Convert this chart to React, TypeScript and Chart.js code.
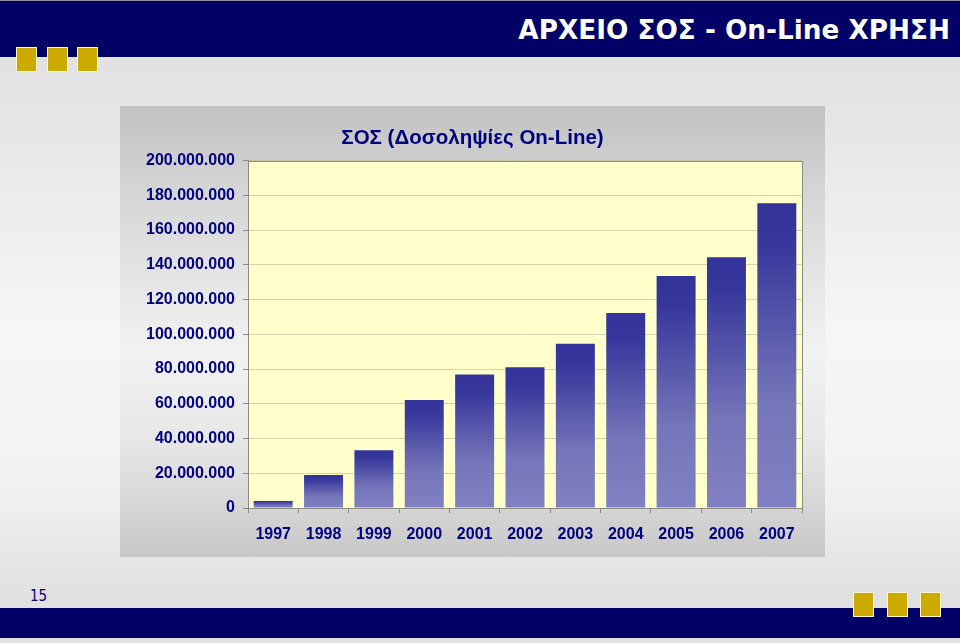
import React, { useEffect, useRef } from "react";
import { Chart, registerables } from "chart.js";

Chart.register(...registerables);

const years: string[] = ["1997", "1998", "1999", "2000", "2001", "2002", "2003", "2004", "2005", "2006", "2007"];
const transactions: number[] = [4000000, 19000000, 33200000, 62200000, 76800000, 81000000, 94500000, 112300000, 133600000, 144300000, 175500000];
const yMin = 0;
const yMax = 200000000;
const yStep = 20000000;
const chartTitle = "ΣΟΣ (Δοσοληψίες On-Line)";
const slideTitle = "ΑΡΧΕΙΟ ΣΟΣ - On-Line ΧΡΗΣΗ";
const pageNumber = "15";

const NAVY = "#000066";
const LABEL = "#000080";
const GOLD = "#ccaa00";

const fmt = (v: number) => String(Math.round(v)).replace(/\B(?=(\d{3})+(?!\d))/g, ".");

const plotBg = {
  id: "plotBg",
  beforeDraw(chart: any) {
    const { ctx, chartArea: a } = chart;
    if (!a) return;
    ctx.save();
    ctx.fillStyle = "#ffffcc";
    ctx.fillRect(a.left, a.top, a.right - a.left, a.bottom - a.top);
    ctx.restore();
  },
  afterDraw(chart: any) {
    const { ctx, chartArea: a } = chart;
    if (!a) return;
    ctx.save();
    ctx.strokeStyle = "#8a8a80";
    ctx.lineWidth = 1;
    ctx.strokeRect(Math.round(a.left) + 0.5, Math.round(a.top) + 0.5, Math.round(a.right - a.left), Math.round(a.bottom - a.top));
    ctx.restore();
  },
};

function Square({ left, top }: { left: number; top: number }) {
  return (
    <div
      style={{
        position: "absolute",
        left,
        top,
        width: 19,
        height: 23,
        background: GOLD,
        border: "1px solid #fff8d0",
      }}
    />
  );
}

export default function App() {
  const canvasRef = useRef<HTMLCanvasElement | null>(null);

  useEffect(() => {
    if (!canvasRef.current) return;
    const chart = new Chart(canvasRef.current, {
      type: "bar",
      data: {
        labels: years,
        datasets: [
          {
            data: transactions,
            backgroundColor: (ctx: any) => {
              const c = ctx.chart;
              const ys = c.scales && c.scales.y;
              if (!c.chartArea || !ys || ctx.raw == null) return "#333399";
              const top = ys.getPixelForValue(ctx.raw);
              const bot = ys.getPixelForValue(0);
              if (!isFinite(top) || !isFinite(bot) || bot - top < 1) return "#333399";
              const g = c.ctx.createLinearGradient(0, top, 0, bot);
              g.addColorStop(0, "#333399");
              g.addColorStop(0.12, "#36369b");
              g.addColorStop(0.65, "#7575b9");
              g.addColorStop(1, "#8080c2");
              return g;
            },
            borderWidth: 0,
            barPercentage: 0.774,
            categoryPercentage: 1,
          },
        ],
      },
      options: {
        responsive: false,
        animation: false,
        layout: { padding: { left: 0, right: 0, top: 0, bottom: 0 } },
        plugins: {
          legend: { display: false },
          tooltip: { enabled: false },
          title: {
            display: true,
            text: chartTitle,
            color: LABEL,
            font: { family: "'Liberation Sans', Arial, sans-serif", size: 20.5, weight: "bold" },
            padding: { top: 20, bottom: 10 },
          },
        },
        scales: {
          x: {
            afterFit: (s: any) => {
              s.height = 49;
            },
            grid: {
              offset: true,
              drawOnChartArea: false,
              drawTicks: true,
              tickLength: 5,
              tickColor: "#8a8a80",
            },
            border: { color: "#8a8a80" },
            ticks: {
              color: LABEL,
              padding: 12,
              maxRotation: 0,
              font: { family: "'Liberation Sans', Arial, sans-serif", size: 16, weight: "bold" },
            },
          },
          y: {
            min: yMin,
            max: yMax,
            afterFit: (s: any) => {
              s.width = 128;
            },
            grid: {
              color: "rgba(170,170,140,0.5)",
              drawTicks: true,
              tickLength: 5,
              tickColor: "#8a8a80",
            },
            border: { color: "#8a8a80" },
            ticks: {
              stepSize: yStep,
              color: LABEL,
              padding: 8,
              font: { family: "'Liberation Sans', Arial, sans-serif", size: 16, weight: "bold" },
              callback: (v: any) => fmt(Number(v)),
            },
          },
          yRightSpace: {
            position: "right",
            min: yMin,
            max: yMax,
            afterFit: (s: any) => {
              s.width = 23;
            },
            grid: { display: false },
            border: { display: false },
            ticks: { display: false },
          },
        },
      },
      plugins: [plotBg],
    });
    return () => chart.destroy();
  }, []);

  return (
    <div
      style={{
        position: "fixed",
        left: 0,
        top: 0,
        width: 960,
        height: 643,
        overflow: "hidden",
        background: "linear-gradient(180deg, #e0e0e0 0px, #e2e2e2 70px, #f6f6f6 330px, #f2f2f2 480px, #e0e0e0 600px)",
        fontFamily: "'Liberation Sans', Arial, sans-serif",
      }}
    >
      {/* header */}
      <div style={{ position: "absolute", left: 0, top: 0, width: 960, height: 1, background: "#9090a0" }} />
      <div style={{ position: "absolute", left: 0, top: 1, width: 960, height: 56, background: NAVY }} />
      <div
        style={{
          position: "absolute",
          right: 10,
          top: 15,
          color: "#ffffff",
          fontFamily: "'DejaVu Sans', sans-serif",
          fontWeight: "bold",
          fontSize: 26.3,
          lineHeight: "30px",
          whiteSpace: "nowrap",
        }}
      >
        {slideTitle}
      </div>
      <Square left={16} top={47} />
      <Square left={47} top={47} />
      <Square left={77} top={47} />

      {/* chart box */}
      <div
        style={{
          position: "absolute",
          left: 120,
          top: 106,
          width: 705,
          height: 451,
          background: "linear-gradient(180deg, #c2c2c2 0%, #d6d6d6 20%, #f2f2f2 55%, #e6e6e6 75%, #c8c8c8 100%)",
        }}
      >
        <canvas ref={canvasRef} width={705} height={451} style={{ display: "block" }} />
      </div>

      {/* footer */}
      <div
        style={{
          position: "absolute",
          left: 30,
          top: 588,
          color: LABEL,
          fontFamily: "'DejaVu Sans Condensed', 'DejaVu Sans', sans-serif",
          fontStretch: "condensed",
          fontSize: 15,
          lineHeight: "16px",
        }}
      >
        {pageNumber}
      </div>
      <div style={{ position: "absolute", left: 0, top: 608, width: 960, height: 30, background: NAVY }} />
      <Square left={853} top={592} />
      <Square left={887} top={592} />
      <Square left={920} top={592} />
    </div>
  );
}
